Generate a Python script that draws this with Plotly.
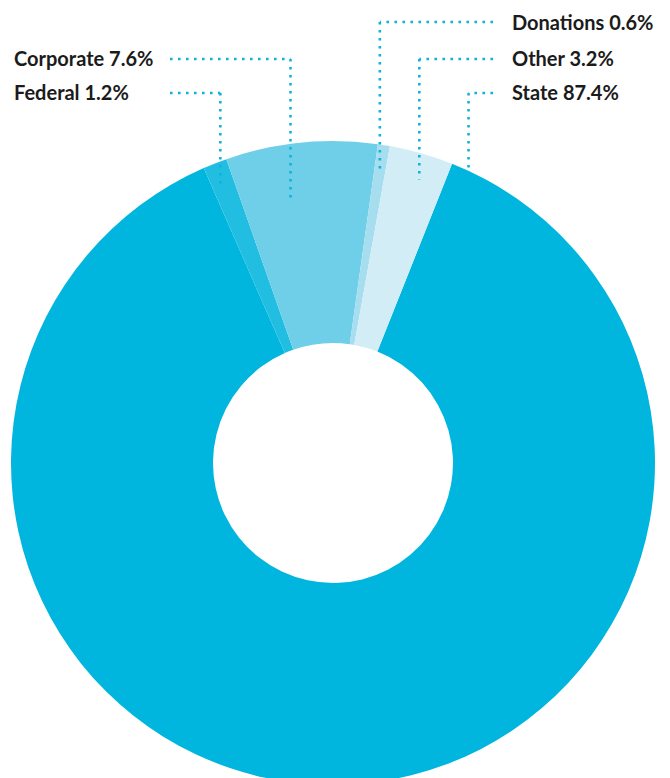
import plotly.graph_objects as go
import math

# ---- data ----
categories = ["State", "Federal", "Corporate", "Donations", "Other"]
shares = [87.4, 1.2, 7.6, 0.6, 3.2]
label_texts = [f"{c} {v}%" for c, v in zip(categories, shares)]
colors = ["#00b6de", "#21bee2", "#6fcfe8", "#a6ddef", "#d2edf6"]

W, H = 670, 790
CX, CY, R = 333, 463, 322
ROT = 21.7

fig = go.Figure(go.Pie(
    labels=categories, values=shares, sort=False, direction="clockwise",
    rotation=ROT, hole=120 / R, textinfo="none", hoverinfo="label+percent",
    marker=dict(colors=colors, line=dict(width=0)),
    domain=dict(x=[(CX - R) / W, (CX + R) / W], y=[1 - (CY + R) / H, 1 - (CY - R) / H]),
    showlegend=False,
))

# mid angles (deg, clockwise from 12 o'clock) computed from the data
tot = sum(shares)
mids = []
a = ROT
for v in shares:
    span = v / tot * 360
    mids.append(a + span / 2)
    a += span

def px(x):
    return x / W

def py(y):
    return 1 - y / H

# label layout: (side, text row y, leader angle, leader radius)
label_layout = {
    "Donations": ("right", 22, mids[3], 0.92),
    "Other": ("right", 59, mids[4] + 1.0, 0.92),
    "State": ("right", 93, ROT + 3.2, 1.0),
    "Corporate": ("left", 59, mids[2] - 3.6, 0.82),
    "Federal": ("left", 93, mids[1] - 0.6, 0.93),
}
line_style = dict(color="#10b4d8", width=2.6, dash="2.6px,5.4px")
shapes = []
annotations = []
for cat, txt in zip(categories, label_texts):
    side, ty, ang, rf = label_layout[cat]
    ex = CX + R * rf * math.sin(math.radians(ang))
    ey = CY - R * rf * math.cos(math.radians(ang))
    if side == "right":
        hx_end = 493
        tx = 510
    else:
        hx_end = 170
        tx = 12
    shapes.append(dict(type="line", xref="paper", yref="paper",
                       x0=px(hx_end), y0=py(ty), x1=px(ex), y1=py(ty), line=line_style))
    shapes.append(dict(type="line", xref="paper", yref="paper",
                       x0=px(ex), y0=py(ty), x1=px(ex), y1=py(ey), line=line_style))
    annotations.append(dict(text=f"<b>{txt}</b>", xref="paper", yref="paper",
                            x=px(tx), y=py(ty - 0.5), xanchor="left", yanchor="middle",
                            showarrow=False, font=dict(family="Lato", size=20, color="#1b1b1b")))

fig.update_layout(
    width=W, height=H, margin=dict(l=0, r=0, t=0, b=0),
    paper_bgcolor="white", plot_bgcolor="white",
    shapes=shapes, annotations=annotations,
)

fig.write_html("out.html", config={"displayModeBar": False},
               post_script="document.body.style.margin='0';document.body.style.overflow='hidden';document.documentElement.style.overflow='hidden';")
